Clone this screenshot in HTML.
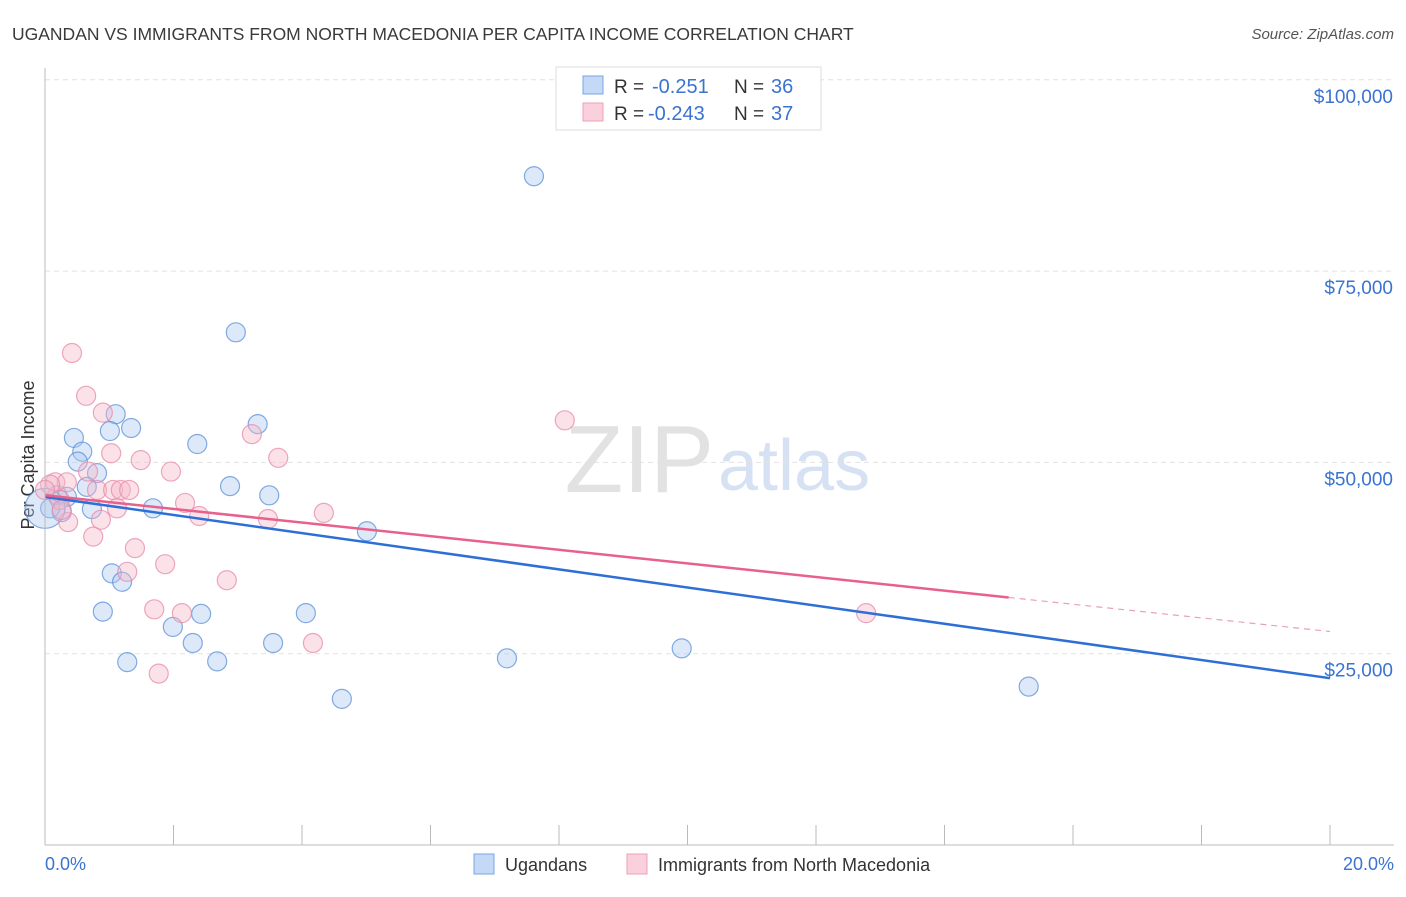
<!DOCTYPE html>
<html><head><meta charset="utf-8"><style>
body{margin:0;background:#fff;font-family:"Liberation Sans",sans-serif}
svg text{font-family:"Liberation Sans",sans-serif}
</style></head><body>
<svg id="chart" width="1406" height="892">
<text x="12" y="40" font-size="17.5" fill="#3a3a3a">UGANDAN VS IMMIGRANTS FROM NORTH MACEDONIA PER CAPITA INCOME CORRELATION CHART</text>
<text x="1394" y="39" font-size="15" fill="#555" text-anchor="end" font-style="italic">Source: ZipAtlas.com</text>
<text x="34" y="455" font-size="18" fill="#333" text-anchor="middle" transform="rotate(-90 34 455)">Per Capita Income</text>
<text x="714" y="492" font-size="96" fill="#e2e2e2" text-anchor="end" font-family="Liberation Serif">ZIP</text>
<text x="718" y="490" font-size="72" fill="#d6e2f3">atlas</text>
<g id="grid"></g><g id="pts"></g><g id="trend"></g>
<line x1="45" y1="68" x2="45" y2="845" stroke="#bbb"/>
<line x1="45" y1="845" x2="1394" y2="845" stroke="#bbb"/>
<text x="45" y="870" font-size="18" fill="#3a73d0">0.0%</text>
<text x="1394" y="870" font-size="18" fill="#3a73d0" text-anchor="end">20.0%</text>
<g>
<rect x="556" y="67" width="265" height="63" fill="#fff" stroke="#ddd"/>
<rect x="583" y="76" width="20" height="18" fill="#c4d9f6" stroke="#7aa4e2"/>
<rect x="583" y="103" width="20" height="18" fill="#f9d0dc" stroke="#eea0b8"/>
<text x="614" y="93" font-size="19" fill="#333">R =</text>
<text x="652" y="93" font-size="20" fill="#3a73d0">-0.251</text>
<text x="734" y="93" font-size="19" fill="#333">N =</text>
<text x="771" y="93" font-size="20" fill="#3a73d0">36</text>
<text x="614" y="120" font-size="19" fill="#333">R =</text>
<text x="648" y="120" font-size="20" fill="#3a73d0">-0.243</text>
<text x="734" y="120" font-size="19" fill="#333">N =</text>
<text x="771" y="120" font-size="20" fill="#3a73d0">37</text>
</g>
<g>
<rect x="474" y="854" width="20" height="20" fill="#c4d9f6" stroke="#7aa4e2"/>
<text x="505" y="871" font-size="18" fill="#333">Ugandans</text>
<rect x="627" y="854" width="20" height="20" fill="#f9d0dc" stroke="#eea0b8"/>
<text x="658" y="871" font-size="18" fill="#333">Immigrants from North Macedonia</text>
</g>
</svg>
<script>
const yTicks=[25000,50000,75000,100000];
const yTickLabels=["$25,000","$50,000","$75,000","$100,000"];
const blueX=[7.61,2.97,3.31,1.10,1.01,1.34,2.37,0.45,0.58,0.51,0.81,0.65,2.88,3.49,0.19,0.34,1.68,0.73,0.26,0.08,5.01,1.04,1.20,0.90,2.43,4.06,1.99,2.30,3.55,1.28,2.68,7.19,9.91,4.62,15.31,0.0];
const blueY=[87.4,67.0,55.0,56.3,54.1,54.5,52.4,53.2,51.4,50.1,48.6,46.8,46.9,45.7,45.7,45.5,44.0,43.9,43.5,44.0,41.0,35.5,34.4,30.5,30.2,30.3,28.5,26.4,26.4,23.9,24.0,24.4,25.7,19.1,20.7,44.0];
const pinkX=[0.42,0.64,0.90,8.09,3.22,1.03,3.63,1.49,1.96,0.67,0.16,0.34,0.81,1.06,1.18,1.31,2.18,0.23,1.12,2.40,3.47,4.34,0.87,0.36,0.75,1.40,1.87,2.83,1.28,1.70,2.13,12.78,4.17,1.77,0.08,0.26,0.0];
const pinkY=[64.3,58.7,56.5,55.5,53.7,51.2,50.6,50.3,48.8,48.8,47.4,47.4,46.4,46.4,46.4,46.4,44.7,45.1,44.0,43.0,42.6,43.4,42.5,42.2,40.3,38.8,36.7,34.6,35.7,30.8,30.3,30.3,26.4,22.4,47.1,43.8,46.4];
const blueTrend=[45.5,21.8];
const pinkTrend=[45.7,27.9];
const pinkSolidEnd=15.0;
const xScale=v=>45+v/20*1285;
const yScale=k=>845-k*1000/25000*191.3;
const NS="http://www.w3.org/2000/svg";
function mk(tag,attrs,parent){const e=document.createElementNS(NS,tag);for(const k in attrs)e.setAttribute(k,attrs[k]);parent.appendChild(e);return e;}
const grid=document.getElementById('grid');
yTicks.forEach((t,i)=>{const y=yScale(t/1000);
const l=mk('line',{x1:45,x2:1394,y1:y,y2:y,stroke:'#e2e2e2','stroke-dasharray':'5,4'},grid);


const tx=mk('text',{x:1393,y:y+23,'font-size':19,fill:'#3a73d0','text-anchor':'end'},grid);tx.textContent=yTickLabels[i];

});
for(let i=0;i<=10;i++){const x=xScale(i*2);const l=mk('line',{x1:x,x2:x,y1:825,y2:845,stroke:'#bbb'},grid);

}
const pts=document.getElementById('pts');
function dots(xs,ys,fill,stroke,name){xs.forEach((v,i)=>{const big=(i===xs.length-1&&name==='ugandan-point');
const c=mk('circle',{cx:xScale(v),cy:yScale(ys[i]),r:big?20:9.5,fill:fill,'fill-opacity':0.4,stroke:stroke,'stroke-opacity':0.75,'stroke-width':1.2},pts);

});}
dots(blueX,blueY,'#a9c8f0','#5b8fd8','ugandan-point');
dots(pinkX,pinkY,'#f5b6c8','#e88aa8','macedonia-point');
const tr=document.getElementById('trend');
const b=mk('line',{x1:xScale(0),y1:yScale(blueTrend[0]),x2:xScale(20),y2:yScale(blueTrend[1]),stroke:'#2d6fd6','stroke-width':2.5},tr);


const pAt=x=>pinkTrend[0]+(pinkTrend[1]-pinkTrend[0])*x/20;
const p1=mk('line',{x1:xScale(0),y1:yScale(pAt(0)),x2:xScale(pinkSolidEnd),y2:yScale(pAt(pinkSolidEnd)),stroke:'#e8608c','stroke-width':2.5},tr);


const p2=mk('line',{x1:xScale(pinkSolidEnd),y1:yScale(pAt(pinkSolidEnd)),x2:xScale(20),y2:yScale(pAt(20)),stroke:'#e8a0b8','stroke-width':1.2,'stroke-dasharray':'6,5'},tr);


</script>
</body></html>
